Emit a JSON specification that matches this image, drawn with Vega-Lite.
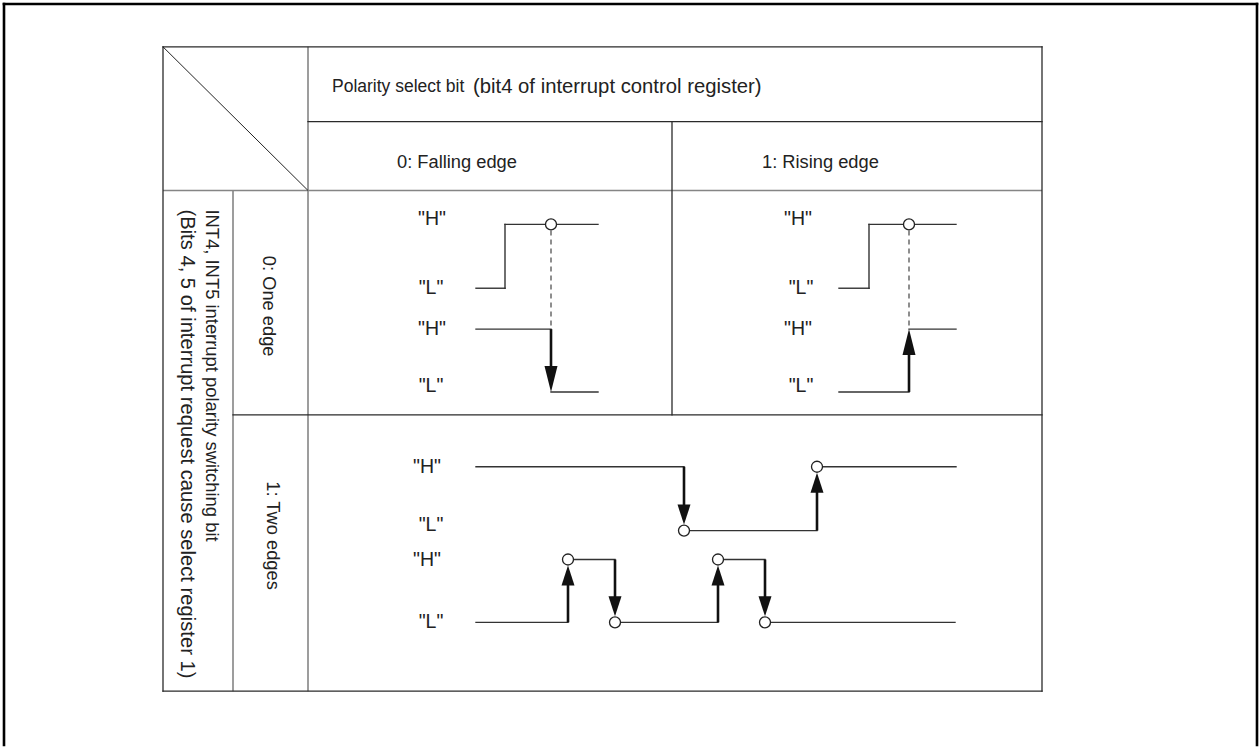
{
  "$schema": "https://vega.github.io/schema/vega-lite/v6.json",
  "width": 1259,
  "height": 747,
  "autosize": {"type": "fit", "contains": "padding"},
  "padding": 0,
  "background": "white",
  "config": {"view": {"stroke": null}},
  "datasets": {
    "segs": [
      {"k": "frame", "x": 4, "y": 4, "x2": 1257, "y2": 4},
      {"k": "frame", "x": 4, "y": 4, "x2": 4, "y2": 747},
      {"k": "frame", "x": 1257, "y": 4, "x2": 1257, "y2": 747},
      {"k": "dark", "x": 163, "y": 47, "x2": 1042, "y2": 47},
      {"k": "dark", "x": 163, "y": 693, "x2": 1042, "y2": 693},
      {"k": "dark", "x": 163, "y": 47, "x2": 163, "y2": 693},
      {"k": "dark", "x": 1042, "y": 47, "x2": 1042, "y2": 693},
      {"k": "dark", "x": 308, "y": 122, "x2": 1042, "y2": 122},
      {"k": "dark", "x": 672, "y": 122, "x2": 672, "y2": 416},
      {"k": "dark", "x": 233, "y": 416, "x2": 1042, "y2": 416},
      {"k": "diag", "x": 163, "y": 47, "x2": 308, "y2": 191},
      {"k": "gray", "x": 308, "y": 47, "x2": 308, "y2": 693},
      {"k": "gray", "x": 163, "y": 191, "x2": 1042, "y2": 191},
      {"k": "gray", "x": 233, "y": 191, "x2": 233, "y2": 693},
      {"k": "sig", "x": 476, "y": 289, "x2": 505, "y2": 289},
      {"k": "sig", "x": 505, "y": 289, "x2": 505, "y2": 225},
      {"k": "sig", "x": 505, "y": 225, "x2": 598, "y2": 225},
      {"k": "sig", "x": 476, "y": 330, "x2": 551, "y2": 330},
      {"k": "sig", "x": 551, "y": 393, "x2": 598, "y2": 393},
      {"k": "shaft", "x": 551, "y": 330, "x2": 551, "y2": 385},
      {"k": "dash", "x": 551, "y": 231, "x2": 551, "y2": 330},
      {"k": "sig", "x": 839, "y": 289, "x2": 869, "y2": 289},
      {"k": "sig", "x": 869, "y": 289, "x2": 869, "y2": 225},
      {"k": "sig", "x": 869, "y": 225, "x2": 956, "y2": 225},
      {"k": "sig", "x": 839, "y": 393, "x2": 909, "y2": 393},
      {"k": "sig", "x": 909, "y": 330, "x2": 956, "y2": 330},
      {"k": "shaft", "x": 909, "y": 393, "x2": 909, "y2": 338},
      {"k": "dash", "x": 909, "y": 231, "x2": 909, "y2": 330},
      {"k": "sig", "x": 476, "y": 468, "x2": 684, "y2": 468},
      {"k": "shaft", "x": 684, "y": 468, "x2": 684, "y2": 520},
      {"k": "sig", "x": 684, "y": 532, "x2": 817, "y2": 532},
      {"k": "shaft", "x": 817, "y": 532, "x2": 817, "y2": 480},
      {"k": "sig", "x": 817, "y": 468, "x2": 956, "y2": 468},
      {"k": "sig", "x": 476, "y": 624, "x2": 568, "y2": 624},
      {"k": "shaft", "x": 568, "y": 624, "x2": 568, "y2": 573},
      {"k": "sig", "x": 568, "y": 561, "x2": 615, "y2": 561},
      {"k": "shaft", "x": 615, "y": 561, "x2": 615, "y2": 612},
      {"k": "sig", "x": 615, "y": 624, "x2": 718, "y2": 624},
      {"k": "shaft", "x": 718, "y": 624, "x2": 718, "y2": 573},
      {"k": "sig", "x": 718, "y": 561, "x2": 765, "y2": 561},
      {"k": "shaft", "x": 765, "y": 561, "x2": 765, "y2": 612},
      {"k": "sig", "x": 765, "y": 624, "x2": 955, "y2": 624}
    ],
    "heads": [
      {"k": "down1", "x": 551, "y": 393},
      {"k": "up1", "x": 909, "y": 330},
      {"k": "down2", "x": 684, "y": 526},
      {"k": "up2", "x": 817, "y": 474},
      {"k": "up2", "x": 568, "y": 567},
      {"k": "down2", "x": 615, "y": 618},
      {"k": "up2", "x": 718, "y": 567},
      {"k": "down2", "x": 765, "y": 618}
    ],
    "dots": [
      {"x": 551, "y": 225},
      {"x": 909, "y": 225},
      {"x": 684, "y": 532},
      {"x": 817, "y": 468},
      {"x": 568, "y": 561},
      {"x": 615, "y": 624},
      {"x": 718, "y": 561},
      {"x": 765, "y": 624}
    ],
    "texts": [
      {"g": "h17", "t": "Polarity select bit", "x": 332, "y": 87},
      {"g": "h20", "t": "(bit4 of interrupt control register)", "x": 473, "y": 87},
      {"g": "h18", "t": "0: Falling edge", "x": 397, "y": 163},
      {"g": "h18", "t": "1: Rising edge", "x": 762, "y": 163},
      {"g": "vc", "t": "0: One edge", "x": 268, "y": 307},
      {"g": "vc", "t": "1: Two edges", "x": 272, "y": 537},
      {"g": "vl18", "t": "INT4, INT5 interrupt polarity switching bit", "x": 212, "y": 210},
      {"g": "vl20", "t": "(Bits 4, 5 of interrupt request cause select register 1)", "x": 187, "y": 210},
      {"g": "lab", "t": "\"H\"", "x": 432, "y": 220},
      {"g": "lab", "t": "\"L\"", "x": 431, "y": 289},
      {"g": "lab", "t": "\"H\"", "x": 432, "y": 330},
      {"g": "lab", "t": "\"L\"", "x": 431, "y": 387},
      {"g": "lab", "t": "\"H\"", "x": 798, "y": 220},
      {"g": "lab", "t": "\"L\"", "x": 801, "y": 289},
      {"g": "lab", "t": "\"H\"", "x": 798, "y": 330},
      {"g": "lab", "t": "\"L\"", "x": 801, "y": 387},
      {"g": "lab", "t": "\"H\"", "x": 427, "y": 468},
      {"g": "lab", "t": "\"L\"", "x": 431, "y": 526},
      {"g": "lab", "t": "\"H\"", "x": 427, "y": 562},
      {"g": "lab", "t": "\"L\"", "x": 431, "y": 624}
    ]
  },
  "encoding": {
    "x": {"field": "x", "type": "quantitative", "scale": {"domain": [0, 1259], "nice": false, "zero": false}, "axis": null},
    "y": {"field": "y", "type": "quantitative", "scale": {"domain": [0, 747], "nice": false, "zero": false, "reverse": true}, "axis": null}
  },
  "layer": [
    {
      "data": {"name": "segs"},
      "transform": [{"filter": "datum.k === 'frame'"}],
      "mark": {"type": "rule", "color": "#000000", "strokeWidth": 2.6, "strokeCap": "square"},
      "encoding": {"x2": {"field": "x2"}, "y2": {"field": "y2"}}
    },
    {
      "data": {"name": "segs"},
      "transform": [{"filter": "datum.k === 'gray'"}],
      "mark": {"type": "rule", "color": "#858585", "strokeWidth": 1.6},
      "encoding": {"x2": {"field": "x2"}, "y2": {"field": "y2"}}
    },
    {
      "data": {"name": "segs"},
      "transform": [{"filter": "datum.k === 'dark'"}],
      "mark": {"type": "rule", "color": "#2a2a2a", "strokeWidth": 1.3, "strokeCap": "square"},
      "encoding": {"x2": {"field": "x2"}, "y2": {"field": "y2"}}
    },
    {
      "data": {"name": "segs"},
      "transform": [{"filter": "datum.k === 'diag'"}],
      "mark": {"type": "rule", "color": "#222222", "strokeWidth": 1},
      "encoding": {"x2": {"field": "x2"}, "y2": {"field": "y2"}}
    },
    {
      "data": {"name": "segs"},
      "transform": [{"filter": "datum.k === 'sig'"}],
      "mark": {"type": "rule", "color": "#333333", "strokeWidth": 1.4, "strokeCap": "square"},
      "encoding": {"x2": {"field": "x2"}, "y2": {"field": "y2"}}
    },
    {
      "data": {"name": "segs"},
      "transform": [{"filter": "datum.k === 'dash'"}],
      "mark": {"type": "rule", "color": "#444444", "strokeWidth": 1.2, "strokeDash": [5, 4]},
      "encoding": {"x2": {"field": "x2"}, "y2": {"field": "y2"}}
    },
    {
      "data": {"name": "segs"},
      "transform": [{"filter": "datum.k === 'shaft'"}],
      "mark": {"type": "rule", "color": "#111111", "strokeWidth": 2.6},
      "encoding": {"x2": {"field": "x2"}, "y2": {"field": "y2"}}
    },
    {
      "data": {"name": "heads"},
      "transform": [{"filter": "datum.k === 'down1'"}],
      "mark": {"type": "point", "shape": "M0,0L-0.25,-1L0.25,-1Z", "size": 2704, "filled": true, "color": "#111111", "opacity": 1, "strokeWidth": 0}
    },
    {
      "data": {"name": "heads"},
      "transform": [{"filter": "datum.k === 'up1'"}],
      "mark": {"type": "point", "shape": "M0,0L-0.25,1L0.25,1Z", "size": 2704, "filled": true, "color": "#111111", "opacity": 1, "strokeWidth": 0}
    },
    {
      "data": {"name": "heads"},
      "transform": [{"filter": "datum.k === 'down2'"}],
      "mark": {"type": "point", "shape": "M0,0L-0.325,-1L0.325,-1Z", "size": 1600, "filled": true, "color": "#111111", "opacity": 1, "strokeWidth": 0}
    },
    {
      "data": {"name": "heads"},
      "transform": [{"filter": "datum.k === 'up2'"}],
      "mark": {"type": "point", "shape": "M0,0L-0.325,1L0.325,1Z", "size": 1600, "filled": true, "color": "#111111", "opacity": 1, "strokeWidth": 0}
    },
    {
      "data": {"name": "dots"},
      "mark": {"type": "point", "shape": "circle", "size": 121, "filled": true, "fill": "#ffffff", "stroke": "#222222", "strokeWidth": 1.3, "opacity": 1}
    },
    {
      "data": {"name": "texts"},
      "transform": [{"filter": "datum.g === 'h17'"}],
      "mark": {"type": "text", "font": "Liberation Sans", "fontSize": 17.5, "align": "left", "baseline": "middle", "color": "#222222"},
      "encoding": {"text": {"field": "t"}}
    },
    {
      "data": {"name": "texts"},
      "transform": [{"filter": "datum.g === 'h20'"}],
      "mark": {"type": "text", "font": "Liberation Sans", "fontSize": 20.3, "align": "left", "baseline": "middle", "color": "#222222"},
      "encoding": {"text": {"field": "t"}}
    },
    {
      "data": {"name": "texts"},
      "transform": [{"filter": "datum.g === 'h18'"}],
      "mark": {"type": "text", "font": "Liberation Sans", "fontSize": 18.3, "align": "left", "baseline": "middle", "color": "#222222"},
      "encoding": {"text": {"field": "t"}}
    },
    {
      "data": {"name": "texts"},
      "transform": [{"filter": "datum.g === 'vc'"}],
      "mark": {"type": "text", "font": "Liberation Sans", "fontSize": 18.3, "align": "center", "baseline": "middle", "angle": 90, "color": "#222222"},
      "encoding": {"text": {"field": "t"}}
    },
    {
      "data": {"name": "texts"},
      "transform": [{"filter": "datum.g === 'vl18'"}],
      "mark": {"type": "text", "font": "Liberation Sans", "fontSize": 18.4, "align": "left", "baseline": "middle", "angle": 90, "color": "#222222"},
      "encoding": {"text": {"field": "t"}}
    },
    {
      "data": {"name": "texts"},
      "transform": [{"filter": "datum.g === 'vl20'"}],
      "mark": {"type": "text", "font": "Liberation Sans", "fontSize": 20.2, "align": "left", "baseline": "middle", "angle": 90, "color": "#222222"},
      "encoding": {"text": {"field": "t"}}
    },
    {
      "data": {"name": "texts"},
      "transform": [{"filter": "datum.g === 'lab'"}],
      "mark": {"type": "text", "font": "Liberation Sans", "fontSize": 19.5, "align": "center", "baseline": "middle", "color": "#222222"},
      "encoding": {"text": {"field": "t"}}
    }
  ]
}
